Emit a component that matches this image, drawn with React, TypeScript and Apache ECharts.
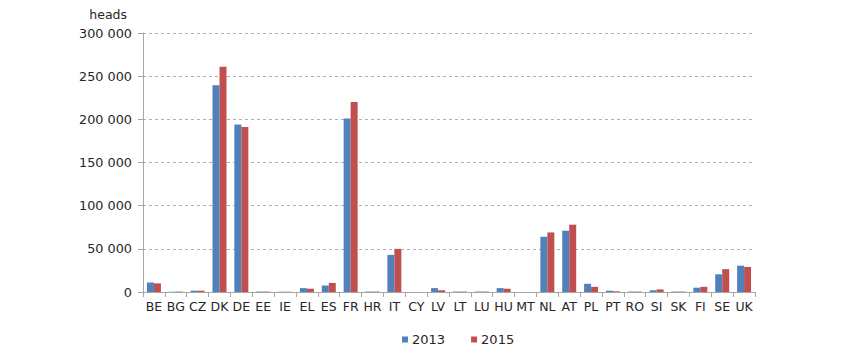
import React, { useEffect, useRef } from "react";
import * as echarts from "echarts";

const categories = ["BE","BG","CZ","DK","DE","EE","IE","EL","ES","FR","HR","IT","CY","LV","LT","LU","HU","MT","NL","AT","PL","PT","RO","SI","SK","FI","SE","UK"];
const values2013 = [11000,300,1500,239500,194000,500,300,4500,7500,201000,500,43000,0,4500,500,500,4500,0,64000,71000,9500,1500,500,2000,500,5000,20500,30500];
const values2015 = [10000,500,1500,261000,191000,500,300,3800,10500,220000,500,50000,0,2000,500,500,3800,0,69000,78000,6000,800,500,3000,500,6000,26500,29000];
const seriesNames = ["2013", "2015"];
const unitLabel = "heads";

const FONT = "DejaVu Sans, Verdana, sans-serif";
const TXT = "#262626";

export default function App() {
  const ref = useRef<HTMLDivElement>(null);
  useEffect(() => {
    if (!ref.current) return;
    const chart = echarts.init(ref.current, undefined, { renderer: "svg" });
    chart.setOption({
      animation: false,
      textStyle: { fontFamily: FONT },
      grid: { left: 135, right: 87, top: 21, bottom: 54 },
      legend: {
        top: 320,
        left: 389,
        itemWidth: 6,
        itemHeight: 6,
        itemGap: 26,
        icon: "rect",
        textStyle: { fontFamily: FONT, fontSize: 13, color: TXT, padding: [0, 0, 0, -1] },
        data: seriesNames,
      },
      xAxis: {
        type: "category",
        data: categories,
        axisLine: { lineStyle: { color: "#a6a6a6" } },
        axisTick: { show: true, alignWithLabel: false, length: 5, lineStyle: { color: "#a6a6a6" } },
        axisLabel: { fontFamily: FONT, fontSize: 12.5, color: TXT, interval: 0, margin: 8 },
      },
      yAxis: {
        type: "value",
        min: 0,
        max: 300000,
        interval: 50000,
        name: unitLabel,
        nameLocation: "end",
        nameGap: 12,
        nameTextStyle: { fontFamily: FONT, fontSize: 12.5, color: TXT, align: "right", padding: [0, 16, 0, 0] },
        axisLine: { show: true, lineStyle: { color: "#a6a6a6" } },
        axisTick: { show: true, length: 5, lineStyle: { color: "#a6a6a6" } },
        splitLine: { lineStyle: { color: "#b0b0b0", type: [3, 3] } },
        axisLabel: {
          fontFamily: FONT,
          fontSize: 12.8,
          color: TXT,
          margin: 11,
          formatter: (v: number) => v.toLocaleString("en-US").replace(/,/g, " "),
        },
      },
      series: [
        {
          name: seriesNames[0],
          type: "bar",
          data: values2013,
          barGap: "0%",
          barCategoryGap: "36%",
          itemStyle: { color: "#4F81BD" },
        },
        {
          name: seriesNames[1],
          type: "bar",
          data: values2015,
          barGap: "0%",
          barCategoryGap: "36%",
          itemStyle: { color: "#C0504D" },
        },
      ],
    });
    return () => chart.dispose();
  }, []);
  return <div ref={ref} style={{ width: 834, height: 338 }} />;
}
